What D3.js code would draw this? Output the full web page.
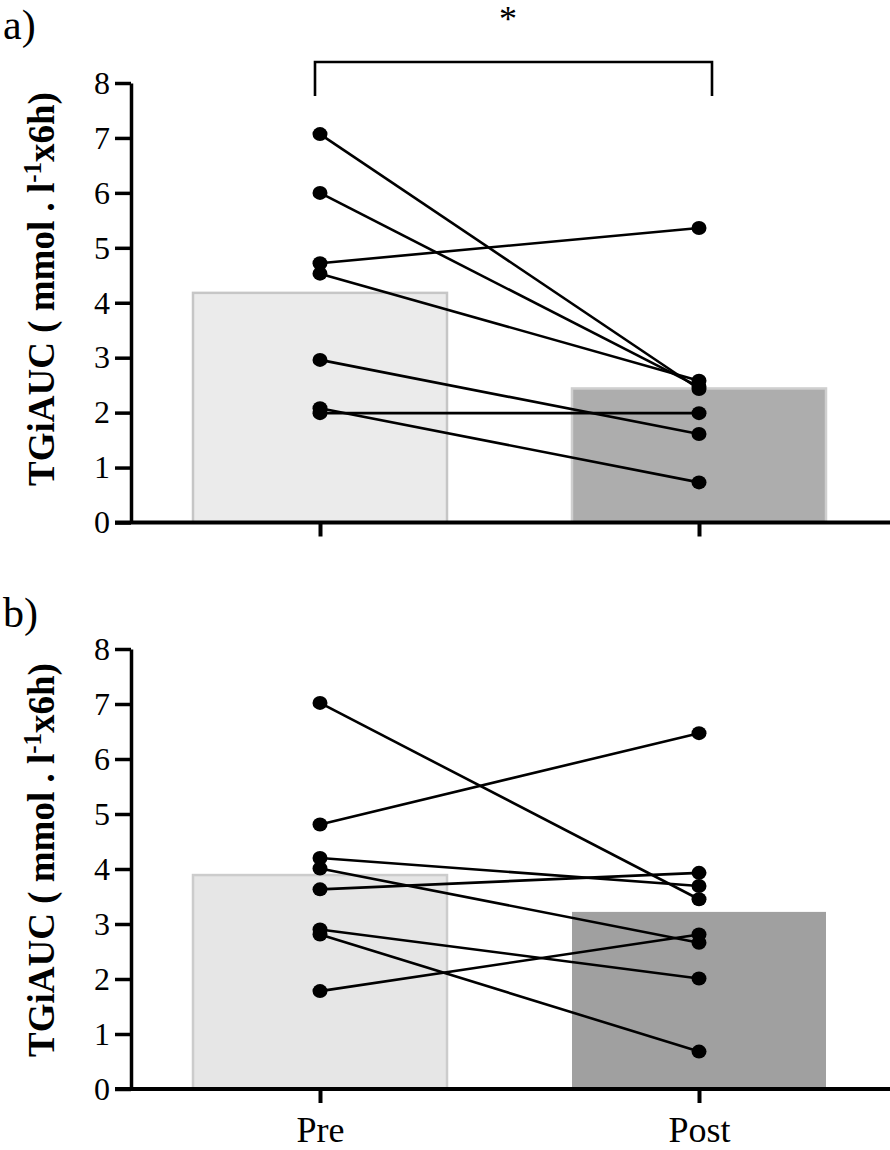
<!DOCTYPE html>
<html>
<head>
<meta charset="utf-8">
<script src="https://cdn.jsdelivr.net/npm/d3@7"></script>
<style>
  html, body { margin: 0; padding: 0; background: #fff; }
  svg { display: block; }
  svg text { font-family: 'Liberation Serif', 'Times New Roman', serif; fill: #000; }
</style>
</head>
<body>
<svg id="chart" width="890" height="1150"></svg>
<script>
// ---- data ----
const groups = ["Pre", "Post"];
const yTicks = [0, 1, 2, 3, 4, 5, 6, 7, 8];
const panelLabels = ["a)", "b)"];
const yLabelMain = "TGiAUC ( mmol . l";
const yLabelSup = "-1";
const yLabelEnd = "x6h)";

const barsA = [4.18, 2.44];
const preA  = [7.07, 6.00, 4.72, 4.53, 2.96, 2.08, 1.99];
const postA = [2.43, 2.47, 5.36, 2.58, 1.61, 0.73, 1.99];

const barsB = [3.89, 3.22];
const preB  = [7.02, 4.81, 4.20, 4.01, 3.63, 2.90, 2.81, 1.78];
const postB = [3.45, 6.47, 3.69, 2.66, 3.93, 2.01, 0.68, 2.81];

const sigLabel = "*";

// ---- layout ----
const FONT = "'Liberation Serif', 'Times New Roman', serif";
const svg = d3.select("#chart");
const axisX = 131;
const x = d3.scalePoint().domain(groups).range([320, 699]);
const barW = 254;

function drawPanel(cfg) {
  const g = svg.append("g");
  const y = d3.scaleLinear().domain([0, 8]).range([cfg.y0, cfg.y8]);

  // bars
  g.selectAll("rect.bar").data(cfg.bars).join("rect")
    .attr("class", "bar")
    .attr("x", (d, i) => x(groups[i]) - barW / 2)
    .attr("width", barW)
    .attr("y", d => y(d))
    .attr("height", d => y(0) - y(d))
    .attr("fill", (d, i) => cfg.fills[i])
    .attr("stroke", (d, i) => cfg.strokes[i])
    .attr("stroke-width", 2.5);

  // paired lines
  const pairs = cfg.pre.map((v, i) => [v, cfg.post[i]]);
  g.selectAll("line.pair").data(pairs).join("line")
    .attr("class", "pair")
    .attr("x1", x("Pre")).attr("y1", d => y(d[0]))
    .attr("x2", x("Post")).attr("y2", d => y(d[1]))
    .attr("stroke", "#000").attr("stroke-width", 2.6);

  g.selectAll("ellipse.pre").data(cfg.pre).join("ellipse")
    .attr("cx", x("Pre")).attr("cy", d => y(d))
    .attr("rx", 7.5).attr("ry", 7).attr("fill", "#000");
  g.selectAll("ellipse.post").data(cfg.post).join("ellipse")
    .attr("cx", x("Post")).attr("cy", d => y(d))
    .attr("rx", 7.5).attr("ry", 7).attr("fill", "#000");

  // y axis
  const yAxis = d3.axisLeft(y).tickValues(yTicks).tickSize(16).tickSizeOuter(0).tickPadding(5);
  const ya = g.append("g").attr("transform", `translate(${axisX},0)`).call(yAxis)
    .attr("font-family", FONT);
  ya.select(".domain").attr("stroke", "#000").attr("stroke-width", 3.5);
  ya.selectAll(".tick line").attr("stroke", "#000").attr("stroke-width", 3.5);
  ya.selectAll(".tick text")
    .attr("font-size", 32)
    .style("font-family", FONT)
    .attr("fill", "#000");

  // x axis
  g.append("line")
    .attr("x1", 115).attr("x2", 890)
    .attr("y1", y(0)).attr("y2", y(0))
    .attr("stroke", "#000").attr("stroke-width", 4);
  const xAxis = d3.axisBottom(x).tickSize(14).tickSizeOuter(0)
    .tickFormat(cfg.showX ? (d => d) : () => "");
  const xa = g.append("g").attr("transform", `translate(0,${y(0)})`).call(xAxis)
    .attr("font-family", FONT);
  xa.select(".domain").remove();
  xa.selectAll(".tick line").attr("stroke", "#000").attr("stroke-width", 4);
  xa.selectAll(".tick text")
    .attr("font-size", 36)
    .style("font-family", FONT)
    .attr("fill", "#000")
    .attr("dy", null)
    .attr("y", cfg.xLabelBaseline - y(0));

  // panel label
  g.append("text").attr("x", 3).attr("y", cfg.labelBaseline)
    .style("font-family", FONT)
    .attr("font-size", 42).text(cfg.label);

  // y axis title
  const t = g.append("text")
    .attr("transform", `translate(54,${cfg.titleCenter}) rotate(-90)`)
    .attr("text-anchor", "middle")
    .style("font-family", FONT)
    .attr("font-weight", "bold")
    .attr("font-size", 37);
  t.append("tspan").text(yLabelMain);
  t.append("tspan").attr("dy", -13).attr("font-size", 25).text(yLabelSup);
  t.append("tspan").attr("dy", 13).text(yLabelEnd);

  return y;
}

drawPanel({
  y0: 522.5, y8: 83, bars: barsA, pre: preA, post: postA,
  fills: ["#ebebeb", "#adadad"], strokes: ["#c6c6c6", "#cfcfcf"],
  showX: false, xLabelBaseline: 0, label: panelLabels[0], labelBaseline: 39,
  titleCenter: 289
});

drawPanel({
  y0: 1089, y8: 649, bars: barsB, pre: preB, post: postB,
  fills: ["#e6e6e6", "#a0a0a0"], strokes: ["#cccccc", "none"],
  showX: true, xLabelBaseline: 1142, label: panelLabels[1], labelBaseline: 627,
  titleCenter: 860
});

// significance bracket (panel a)
const bTop = 62, bBottom = 96;
svg.append("path")
  .attr("d", `M${x("Pre") - 5},${bBottom} V${bTop} H${x("Post") + 13} V${bBottom}`)
  .attr("fill", "none").attr("stroke", "#000").attr("stroke-width", 2.6);
svg.append("text")
  .attr("x", 508).attr("y", 31)
  .attr("text-anchor", "middle")
  .style("font-family", FONT)
  .attr("font-size", 36)
  .text(sigLabel);
</script>
</body>
</html>
